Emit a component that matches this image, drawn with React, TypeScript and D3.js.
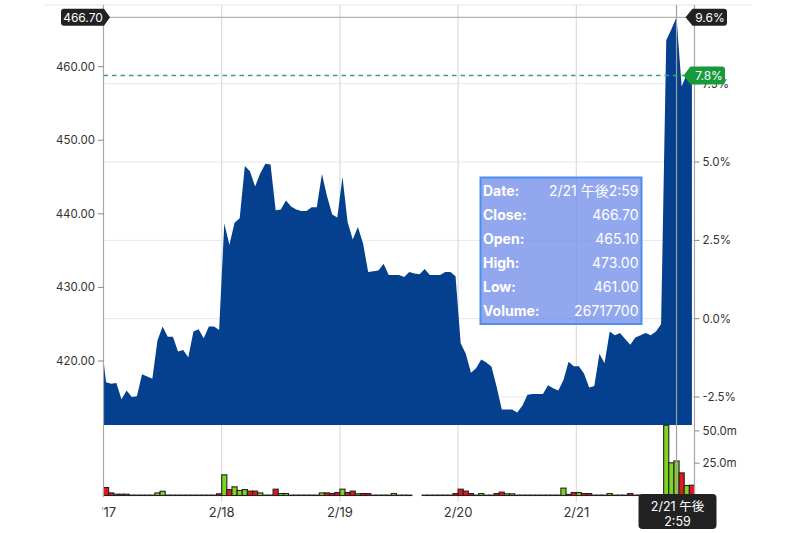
import React from "react";
import { area, scaleLinear } from "d3";

// 5-day intraday chart, 23 bars per session
const days = ["2/17", "2/18", "2/19", "2/20", "2/21"];
const priorClose = 423.0; // last bar of the previous session, clipped off at the left

const close217 = [417.1, 416.9, 417.0, 414.8, 416.0, 415.1, 415.2, 418.2, 417.9, 417.6, 422.8, 424.7, 423.3, 423.3, 421.3, 421.5, 420.5, 424.0, 424.3, 423.1, 424.7, 424.7, 424.2];
const close218 = [438.7, 435.8, 438.8, 439.4, 446.5, 445.8, 443.7, 445.5, 446.8, 446.7, 440.5, 440.6, 441.8, 441.0, 440.6, 440.4, 440.4, 440.9, 440.9, 445.4, 442.4, 439.9, 439.5];
const close219 = [445.0, 438.9, 436.5, 438.2, 436.0, 432.1, 432.2, 432.3, 433.2, 431.7, 431.7, 431.7, 431.4, 432.1, 431.9, 431.8, 432.5, 431.7, 431.7, 431.7, 432.1, 432.1, 431.5];
const close220 = [422.4, 421.0, 418.4, 419.0, 420.2, 419.8, 419.2, 416.5, 413.4, 413.4, 413.4, 413.0, 413.9, 415.4, 415.5, 415.5, 415.5, 416.7, 416.3, 416.0, 417.4, 419.9, 419.3];
const close221 = [419.3, 418.3, 416.4, 416.6, 421.0, 419.7, 424.0, 423.5, 423.8, 423.0, 422.2, 423.2, 423.5, 423.8, 423.5, 424.0, 425.0, 463.6, 465.1, 466.7, 457.3, 459.0, 458.8];

// volume in millions
const vol217 = [6.2, 2.0, 1.0, 1.0, 1.0, 0.3, 0.3, 0.3, 0.3, 0.3, 2.0, 3.3, 0.3, 0.3, 0.3, 0.3, 0.3, 0.3, 0.3, 0.3, 0.3, 0.3, 1.3];
const vol218 = [16.0, 4.6, 6.7, 3.9, 4.6, 3.4, 3.4, 2.0, 0.3, 0.3, 4.9, 1.5, 1.5, 0.3, 0.3, 0.3, 0.3, 0.3, 0.3, 2.0, 2.0, 1.5, 2.3];
const vol219 = [4.9, 2.3, 3.4, 1.3, 1.5, 1.5, 0.3, 0.3, 0.3, 0.3, 1.5, 0.3, 0.3, 0.3, 0, 0, 0.3, 0.3, 0.3, 0.3, 0.3, 0.3, 1.5];
const vol220 = [4.9, 3.4, 1.5, 0.3, 1.5, 0.3, 0.3, 1.5, 2.6, 1.3, 1.3, 0.3, 0.3, 0.3, 0.3, 0.3, 0.3, 0.3, 0.3, 0.3, 5.7, 0.8, 2.3];
const vol221 = [2.3, 1.5, 1.5, 0.3, 0.3, 0.3, 1.5, 0.3, 0.3, 0.3, 1.5, 0.3, 0.3, 0.3, 0.3, 0.3, 0.3, 54.4, 25.3, 26.7177, 17.5, 7.7, 8.0];

const priceTicks = [420, 430, 440, 450, 460];
const pctTicks = [-2.5, 0, 2.5, 5, 7.5];
const volTicks = [25, 50];
const basePrice = 425.75; // 0.0% reference

const hoverIndex = 4 * 23 + 19;
const tipLabels = ["Date:", "Close:", "Open:", "High:", "Low:", "Volume:"];
const tipValues = ["2/21 午後2:59", "466.70", "465.10", "473.00", "461.00", "26717700"];
const hoverDate = "2/21 午後";
const hoverTime = "2:59";

const FONT = "Inter, 'Noto Sans CJK JP', sans-serif";

export default function App() {
  const perDay = close217.length;
  const closes = [...close217, ...close218, ...close219, ...close220, ...close221];
  const vols = [...vol217, ...vol218, ...vol219, ...vol220, ...vol221];
  const n = closes.length;

  const left = 103.5;
  const right = 694.5;
  const x = scaleLinear().domain([0, n]).range([left, right]);
  const yPrice = scaleLinear().domain([411.3, 466.75]).range([425, 17]);
  const yVol = scaleLinear().domain([0, 50]).range([495.5, 430.9]);
  const yPct = (p: number) => yPrice(basePrice * (1 + p / 100));

  const pts = [{ i: -1, v: priorClose }, ...closes.map((v, i) => ({ i, v }))];
  const areaPath = area<{ i: number; v: number }>()
    .x((d) => x(d.i + 0.5))
    .y0(425)
    .y1((d) => yPrice(d.v))(pts);

  const step = x(1) - x(0);
  const last = closes[n - 1];
  const hoverX = x(hoverIndex + 0.5);
  const hoverV = closes[hoverIndex];
  const pctLabel = (v: number) => `${((v / basePrice - 1) * 100).toFixed(1)}%`;
  const yLast = yPrice(last);
  const yHover = yPrice(hoverV);

  return (
    <div style={{ position: "absolute", left: 0, top: 0 }}>
      <svg width={800} height={533} style={{ display: "block", fontFamily: FONT }}>
        <defs>
          <clipPath id="plot">
            <rect x={left} y={0} width={right - left} height={430} />
          </clipPath>
          <clipPath id="xlab">
            <rect x={left - 1} y={500} width={700} height={30} />
          </clipPath>
        </defs>
        <rect width={800} height={533} fill="#fff" />
        <line x1={45} x2={752} y1={5} y2={5} stroke="#eeeeee" strokeWidth={1.5} />

        {/* horizontal grid at percent ticks */}
        {pctTicks.map((p) => (
          <line key={`hg${p}`} x1={left} x2={right} y1={yPct(p)} y2={yPct(p)} stroke="#e8e8e8" />
        ))}
        {/* day gridlines */}
        {days.map((d, k) =>
          k === 0 ? null : (
            <line key={`vg${d}`} x1={x(k * perDay)} x2={x(k * perDay)} y1={5} y2={502} stroke="#dcdcdc" strokeWidth={1.2} />
          )
        )}

        <path d={areaPath ?? ""} fill="#04408e" clipPath="url(#plot)" />

        {/* volume bars */}
        {vols.map((v, i) => {
          if (v <= 0) return null;
          const prev = i === 0 ? priorClose : closes[i - 1];
          const up = closes[i] >= prev;
          return (
            <rect
              key={`v${i}`}
              x={x(i)}
              y={yVol(v)}
              width={step}
              height={yVol(0) - yVol(v)}
              fill={up ? "#7fd321" : "#e6141b"}
              stroke="#222"
              strokeWidth={1.1}
            />
          );
        })}

        {/* axis lines */}
        <line x1={left} x2={left} y1={5} y2={497} stroke="#a8a8a8" strokeWidth={1.2} />
        <line x1={right} x2={right} y1={5} y2={497} stroke="#a8a8a8" strokeWidth={1.2} />

        {/* crosshair */}
        <line x1={left} x2={right} y1={yHover} y2={yHover} stroke="#b5b5b5" strokeWidth={1.2} />
        <line x1={hoverX} x2={hoverX} y1={5} y2={497} stroke="#a0a0a0" strokeWidth={1.2} />

        {/* last price dashed line */}
        <line x1={left} x2={right - 10} y1={yLast} y2={yLast} stroke="#3e9f78" strokeWidth={1.3} strokeDasharray="4.5 4" />

        {/* left price axis */}
        {priceTicks.map((t) => (
          <g key={`pt${t}`}>
            <line x1={98} x2={left} y1={yPrice(t)} y2={yPrice(t)} stroke="#888" />
            <text x={95} y={yPrice(t)} dy="0.35em" textAnchor="end" fontSize={11.5} fill="#333">
              {t.toFixed(2)}
            </text>
          </g>
        ))}

        {/* right percent axis */}
        {pctTicks.map((p) => (
          <g key={`pc${p}`}>
            <line x1={right} x2={right + 5} y1={yPct(p)} y2={yPct(p)} stroke="#888" />
            <text x={right + 8} y={yPct(p)} dy="0.35em" fontSize={11.5} fill="#333">
              {`${p.toFixed(1)}%`}
            </text>
          </g>
        ))}

        {/* right volume axis */}
        {volTicks.map((t) => (
          <g key={`vt${t}`}>
            <line x1={right} x2={right + 5} y1={yVol(t)} y2={yVol(t)} stroke="#888" />
            <text x={right + 8} y={yVol(t)} dy="0.35em" fontSize={11.5} fill="#333">
              {`${t.toFixed(1)}m`}
            </text>
          </g>
        ))}

        {/* bottom date axis */}
        <g clipPath="url(#xlab)">
          {days.map((d, k) => (
            <text key={`xl${d}`} x={x(k * perDay)} y={517} textAnchor="middle" fontSize={13} fill="#333">
              {d}
            </text>
          ))}
        </g>

        {/* top-left price badge */}
        <path
          d={`M64 ${yHover - 8.5} H104 L110 ${yHover} L104 ${yHover + 8.5} H64 Q61 ${yHover + 8.5} 61 ${yHover + 5.5} V${yHover - 5.5} Q61 ${yHover - 8.5} 64 ${yHover - 8.5} Z`}
          fill="#222"
        />
        <text x={83} y={yHover} dy="0.36em" textAnchor="middle" fontSize={12} fill="#fff">
          {hoverV.toFixed(2)}
        </text>

        {/* top-right percent badge */}
        <path
          d={`M${hoverX + 9} ${yHover} L${hoverX + 16} ${yHover - 8.5} H724 Q727 ${yHover - 8.5} 727 ${yHover - 5.5} V${yHover + 5.5} Q727 ${yHover + 8.5} 724 ${yHover + 8.5} H${hoverX + 16} Z`}
          fill="#222"
        />
        <text x={710} y={yHover} dy="0.36em" textAnchor="middle" fontSize={12} fill="#fff">
          {pctLabel(hoverV)}
        </text>

        {/* last value badge */}
        <path
          d={`M${right - 11} ${yLast} L${right - 4} ${yLast - 9} H722 Q725 ${yLast - 9} 725 ${yLast - 6} V${yLast + 6} Q725 ${yLast + 9} 722 ${yLast + 9} H${right - 4} Z`}
          fill="#169a3b"
        />
        <text x={709} y={yLast} dy="0.36em" textAnchor="middle" fontSize={12} fill="#fff">
          {pctLabel(last)}
        </text>

        {/* tooltip */}
        <rect x={480.5} y={177.5} width={161} height={146.5} fill="#6d8ae8" fillOpacity={0.75} stroke="#4d8ff0" strokeWidth={2} />
        {tipLabels.map((l, k) => (
          <g key={`tip${l}`}>
            <text x={483} y={191 + k * 24} dy="0.35em" fontSize={14} fontWeight={700} fill="#fff">
              {l}
            </text>
            <text x={638.5} y={191 + k * 24} dy="0.35em" textAnchor="end" fontSize={14} fill="#fff">
              {tipValues[k]}
            </text>
          </g>
        ))}

        {/* time badge */}
        <rect x={hoverX - 38} y={494} width={78} height={35} rx={4} fill="#222" />
        <text x={hoverX + 1} y={507} dy="0.35em" textAnchor="middle" fontSize={12.5} fill="#fff">
          {hoverDate}
        </text>
        <text x={hoverX + 1} y={521.5} dy="0.35em" textAnchor="middle" fontSize={12.5} fill="#fff">
          {hoverTime}
        </text>
      </svg>
    </div>
  );
}
